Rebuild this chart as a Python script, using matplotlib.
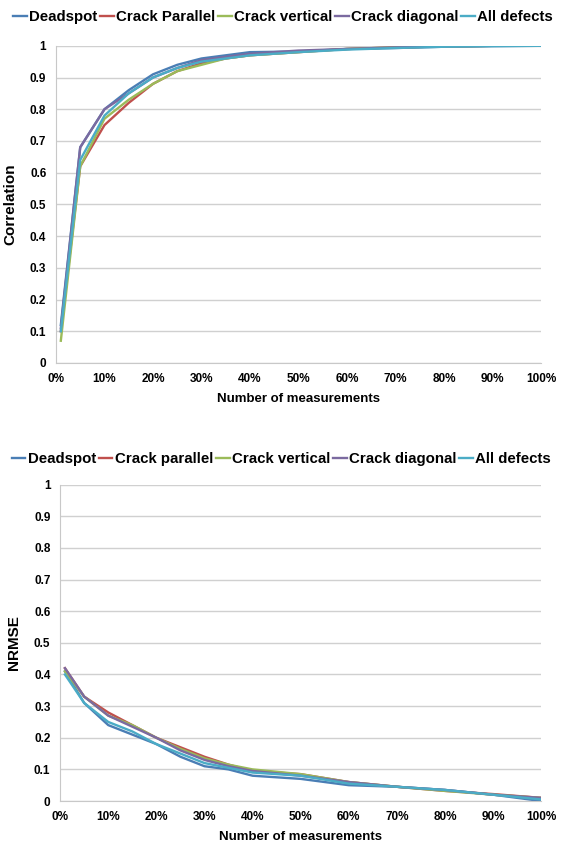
import numpy as np
import matplotlib.pyplot as plt
from matplotlib.ticker import FuncFormatter

plt.rcParams['font.family'] = ['Liberation Sans', 'DejaVu Sans']
plt.rcParams['font.weight'] = 'bold'

x = [1, 5, 10, 15, 20, 25, 30, 35, 40, 50, 60, 70, 80, 90, 100]

names_top = ['Deadspot', 'Crack Parallel', 'Crack vertical', 'Crack diagonal', 'All defects']
names_bot = ['Deadspot', 'Crack parallel', 'Crack vertical', 'Crack diagonal', 'All defects']
colors = ['#4a7eb5', '#c0504d', '#9bbb59', '#7b6aa0', '#4bacc6']

corr_deadspot = [0.12, 0.68, 0.80, 0.86, 0.91, 0.94, 0.96, 0.97, 0.98, 0.982, 0.99, 0.993, 0.997, 0.999, 1.0]
corr_parallel = [0.10, 0.62, 0.75, 0.82, 0.88, 0.92, 0.945, 0.96, 0.97, 0.98, 0.99, 0.995, 0.998, 1.0, 1.0]
corr_vertical = [0.07, 0.62, 0.77, 0.83, 0.88, 0.92, 0.94, 0.96, 0.97, 0.98, 0.99, 0.995, 0.998, 1.0, 1.0]
corr_diagonal = [0.11, 0.68, 0.80, 0.85, 0.90, 0.93, 0.955, 0.965, 0.975, 0.985, 0.99, 0.995, 0.998, 1.0, 1.0]
corr_all = [0.10, 0.64, 0.78, 0.85, 0.90, 0.93, 0.95, 0.96, 0.97, 0.98, 0.988, 0.993, 0.997, 0.999, 1.0]

nrmse_deadspot = [0.41, 0.31, 0.24, 0.21, 0.18, 0.14, 0.11, 0.10, 0.08, 0.07, 0.05, 0.045, 0.035, 0.02, 0.0]
nrmse_parallel = [0.42, 0.33, 0.28, 0.24, 0.20, 0.17, 0.14, 0.115, 0.095, 0.085, 0.06, 0.045, 0.032, 0.022, 0.01]
nrmse_vertical = [0.41, 0.33, 0.27, 0.24, 0.20, 0.165, 0.135, 0.115, 0.10, 0.085, 0.06, 0.045, 0.032, 0.02, 0.01]
nrmse_diagonal = [0.42, 0.33, 0.27, 0.235, 0.20, 0.16, 0.13, 0.11, 0.095, 0.08, 0.06, 0.045, 0.035, 0.02, 0.01]
nrmse_all = [0.40, 0.31, 0.25, 0.22, 0.18, 0.15, 0.12, 0.105, 0.09, 0.08, 0.055, 0.045, 0.035, 0.02, 0.005]

corr = [corr_deadspot, corr_parallel, corr_vertical, corr_diagonal, corr_all]
nrmse = [nrmse_deadspot, nrmse_parallel, nrmse_vertical, nrmse_diagonal, nrmse_all]

fig = plt.figure(figsize=(5.62, 8.48), dpi=100)
ax1 = fig.add_axes([0.0996, 0.572, 0.863, 0.374])
ax2 = fig.add_axes([0.107, 0.0554, 0.856, 0.373])


def style(ax, ylabel, series, names, legend_x, legend_y):
    for vals, c, n in zip(series, colors, names):
        ax.plot(x, vals, color=c, lw=1.7, label=n)
    ax.set_xlim(0, 100)
    ax.set_ylim(0, 1)
    ax.set_xticks(np.arange(0, 101, 10))
    ax.set_yticks(np.arange(0, 1.01, 0.1))
    ax.xaxis.set_major_formatter(FuncFormatter(lambda v, p: f'{int(v)}%'))
    ax.yaxis.set_major_formatter(FuncFormatter(lambda v, p: '0' if v == 0 else ('1' if abs(v - 1) < 1e-9 else f'{v:.1f}')))
    ax.grid(axis='y', color='#d0d0d0', lw=1)
    ax.set_axisbelow(True)
    for s in ['top', 'right']:
        ax.spines[s].set_visible(False)
    for s in ['left', 'bottom']:
        ax.spines[s].set_color('#c8c8c8')
    ax.tick_params(length=0, labelsize=8.5, pad=7)
    ax.set_xlabel('Number of measurements', fontsize=9.5, fontweight='bold', labelpad=6)
    ax.set_ylabel(ylabel, fontsize=11, fontweight='bold', labelpad=9)
    ax.legend(loc='center', bbox_to_anchor=(legend_x, legend_y), ncol=5, frameon=False,
              fontsize=10.8, handlelength=0.9, handletextpad=0.15, columnspacing=0.2,
              borderpad=0)


style(ax1, 'Correlation', corr, names_top, 0.468, 1.09)
style(ax2, 'NRMSE', nrmse, names_bot, 0.46, 1.08)

fig.savefig('out.png', dpi=100)
